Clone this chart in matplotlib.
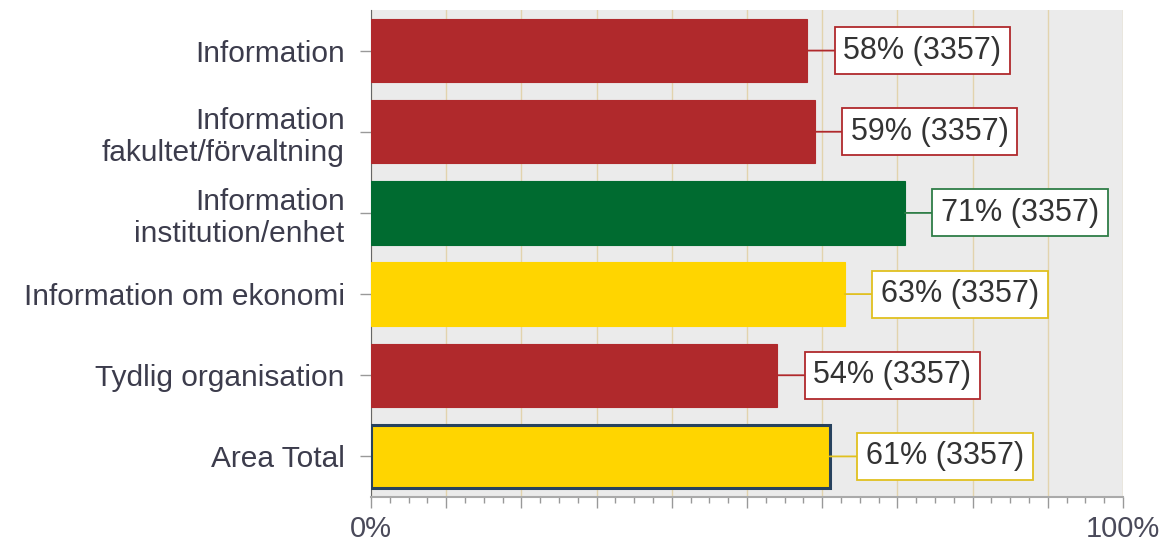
import numpy as np
import matplotlib.pyplot as plt
from matplotlib.ticker import MultipleLocator

# data
categories = ["Information", "Information\nfakultet/förvaltning", "Information\ninstitution/enhet",
              "Information om ekonomi", "Tydlig organisation", "Area Total"]
values = [58, 59, 71, 63, 54, 61]
counts = [3357, 3357, 3357, 3357, 3357, 3357]
colors = ["#b0292c", "#b0292c", "#006b30", "#ffd500", "#b0292c", "#ffd500"]
label_edges = ["#b0292c", "#b0292c", "#2e7d46", "#e0c020", "#b0292c", "#e0c020"]

plt.rcParams["font.family"] = ["Liberation Sans", "DejaVu Sans"]

fig = plt.figure(figsize=(11.6, 5.5), dpi=100)
ax = fig.add_axes([371 / 1160, 53 / 550, 752 / 1160, 487 / 550])
ax.set_facecolor("#ebebeb")

y = np.arange(len(categories))
bars = ax.barh(y, values, height=0.78, color=colors, edgecolor=colors, linewidth=0.8, zorder=3)
# Area Total gets a dark outline
bars[-1].set_edgecolor("#27425e")
bars[-1].set_linewidth(2.2)

for i, (v, n) in enumerate(zip(values, counts)):
    ax.annotate(f"{v}% ({n})", xy=(v, i), xytext=(26, 0), textcoords="offset points",
                ha="left", va="center", fontsize=22, color="#333333", zorder=5,
                bbox=dict(boxstyle="square,pad=0.28", fc="white", ec=label_edges[i], lw=1.3),
                arrowprops=dict(arrowstyle="-", color=label_edges[i], lw=1.3,
                                shrinkA=0, shrinkB=0))

ax.set_xlim(0, 100)
ax.set_ylim(len(categories) - 0.5, -0.5)

ax.xaxis.set_major_locator(MultipleLocator(10))
ax.xaxis.set_minor_locator(MultipleLocator(2.5))
ax.set_xticklabels(["0%" if t == 0 else ("100%" if t == 100 else "") for t in ax.get_xticks()])
ax.grid(axis="x", which="major", color="#e2d3ad", lw=1.0, zorder=1)
ax.tick_params(axis="x", which="major", length=8, width=1, color="#999999", pad=5,
               labelsize=21, labelcolor="#4a4a5a")
ax.tick_params(axis="x", which="minor", length=4, width=1, color="#999999")

ax.set_yticks(y)
ax.set_yticklabels(categories, fontsize=21.5, color="#3c3c4c")
ax.tick_params(axis="y", length=8, width=1, color="#999999", pad=11)

for s in ["top", "right"]:
    ax.spines[s].set_visible(False)
ax.spines["left"].set_color("#666666")
ax.spines["bottom"].set_color("#aaaaaa")
ax.spines["bottom"].set_linewidth(1.5)

fig.savefig("out.png", dpi=100)
